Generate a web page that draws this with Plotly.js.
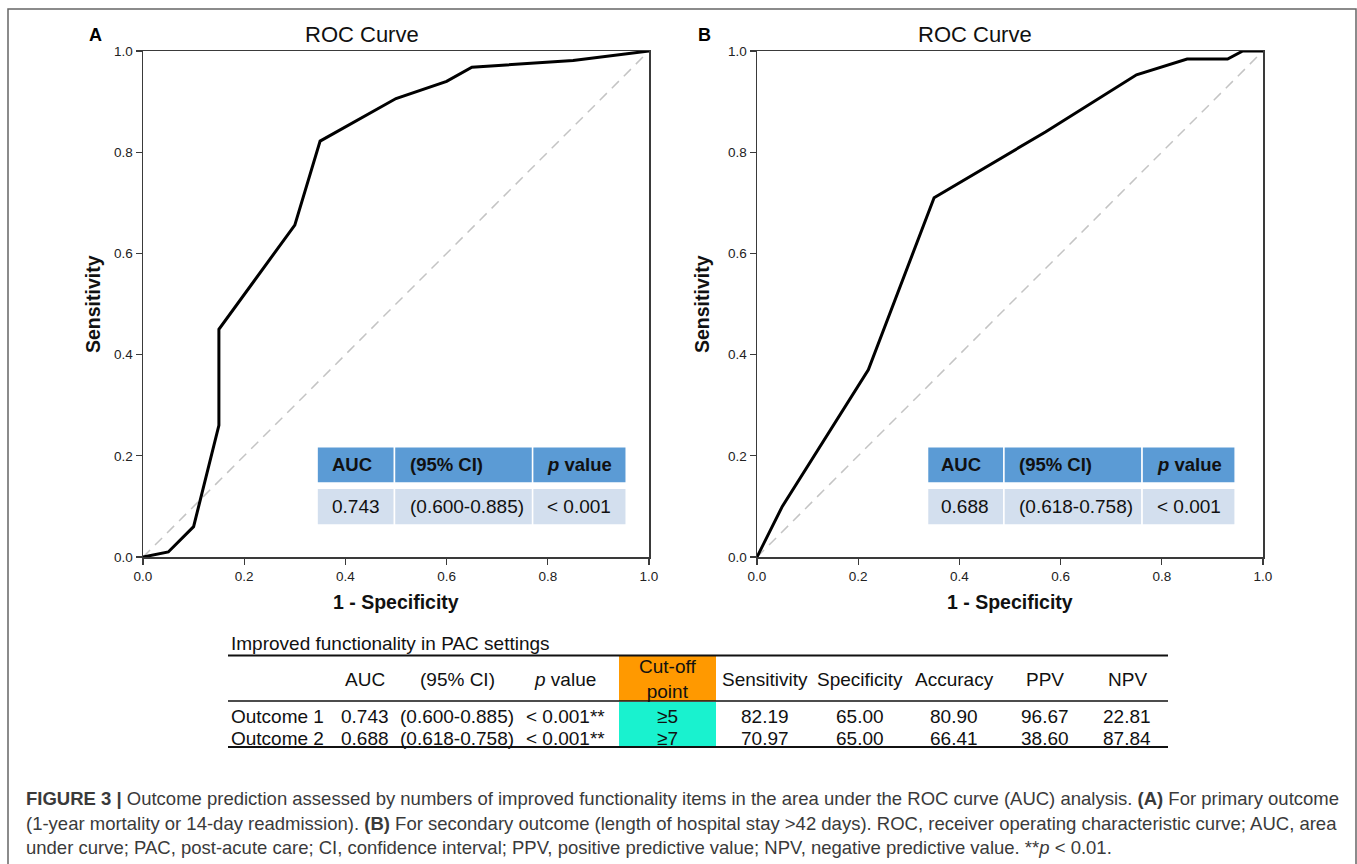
<!DOCTYPE html>
<html>
<head>
<meta charset="utf-8">
<script src="https://cdn.plot.ly/plotly-3.0.1.min.js"></script>
<style>html,body{margin:0;padding:0;background:#fff;}#chart{width:1357px;height:864px;}</style>
</head>
<body>
<div id="chart"></div>
<script>
// ---------- data ----------
const rocA_fpr = [0, 0.05, 0.10, 0.15, 0.15, 0.30, 0.35, 0.50, 0.60, 0.65, 0.85, 1.0];
const rocA_tpr = [0, 0.01, 0.06, 0.26, 0.45, 0.656, 0.822, 0.906, 0.94, 0.968, 0.981, 1.0];
const rocB_fpr = [0, 0.05, 0.22, 0.35, 0.57, 0.75, 0.85, 0.93, 0.96, 1.0];
const rocB_tpr = [0, 0.10, 0.37, 0.71, 0.84, 0.953, 0.984, 0.984, 1.0, 1.0];
const refX = [0, 1];
const refY = [0, 1];
const axisTicks = [0, 0.2, 0.4, 0.6, 0.8, 1.0];
const axisTickText = ["0.0", "0.2", "0.4", "0.6", "0.8", "1.0"];

const insetHeaders = ["AUC", "(95% CI)", "<i>p</i> value"];
const insetA = ["0.743", "(0.600-0.885)", "< 0.001"];
const insetB = ["0.688", "(0.618-0.758)", "< 0.001"];

const tableTitle = "Improved functionality in PAC settings";
const tableCols = ["AUC", "(95% CI)", "<i>p</i> value", "Cut-off<br>point", "Sensitivity", "Specificity", "Accuracy", "PPV", "NPV"];
const outcomeLabels = ["Outcome 1", "Outcome 2"];
const aucVals = ["0.743", "0.688"];
const ciVals = ["(0.600-0.885)", "(0.618-0.758)"];
const pVals = ["< 0.001**", "< 0.001**"];
const cutoffVals = ["≥5", "≥7"];
const sensVals = ["82.19", "70.97"];
const specVals = ["65.00", "65.00"];
const accVals = ["80.90", "66.41"];
const ppvVals = ["96.67", "38.60"];
const npvVals = ["22.81", "87.84"];

const captionLines = [
  "<b>FIGURE 3 |</b> Outcome prediction assessed by numbers of improved functionality items in the area under the ROC curve (AUC) analysis. <b>(A)</b> For primary outcome",
  "(1-year mortality or 14-day readmission). <b>(B)</b> For secondary outcome (length of hospital stay >42 days). ROC, receiver operating characteristic curve; AUC, area",
  "under curve; PAC, post-acute care; CI, confidence interval; PPV, positive predictive value; NPV, negative predictive value. **<i>p</i> < 0.01."
];

// ---------- layout helpers ----------
const W = 1357, H = 864;
const px = v => v / W;
const py = v => 1 - v / H;
const FONT = "Liberation Sans, Arial, Helvetica, sans-serif";

const traces = [
  {x: refX, y: refY, xaxis: 'x', yaxis: 'y', mode: 'lines', line: {color: '#c4c4c4', width: 1.5, dash: '10px,7px'}, hoverinfo: 'skip'},
  {x: rocA_fpr, y: rocA_tpr, xaxis: 'x', yaxis: 'y', mode: 'lines', line: {color: '#000', width: 3}},
  {x: refX, y: refY, xaxis: 'x2', yaxis: 'y2', mode: 'lines', line: {color: '#c4c4c4', width: 1.5, dash: '10px,7px'}, hoverinfo: 'skip'},
  {x: rocB_fpr, y: rocB_tpr, xaxis: 'x2', yaxis: 'y2', mode: 'lines', line: {color: '#000', width: 3}}
];

function axisDef(domain, anchor) {
  return {
    domain: domain, anchor: anchor, range: [0, 1], fixedrange: true,
    showgrid: false, zeroline: false, showline: true, mirror: true,
    linecolor: '#3a3a3a', linewidth: 1.5,
    ticks: 'outside', ticklen: 6, tickwidth: 1.3, tickcolor: '#3a3a3a',
    tickvals: axisTicks, ticktext: axisTickText,
    tickfont: {family: FONT, size: 13.5, color: '#222'}
  };
}

const yDom = [py(557), py(51)];
const layout = {
  width: W, height: H,
  margin: {l: 0, r: 0, t: 0, b: 0},
  paper_bgcolor: '#fff', plot_bgcolor: '#fff',
  showlegend: false,
  xaxis: axisDef([px(143), px(649)], 'y'),
  yaxis: axisDef(yDom, 'x'),
  xaxis2: axisDef([px(757), px(1263)], 'y2'),
  yaxis2: axisDef(yDom, 'x2'),
  shapes: [],
  annotations: []
};

// figure border (bottom edge outside the page)
layout.shapes.push({type: 'rect', xref: 'paper', yref: 'paper', x0: px(8), x1: px(1356), y0: -0.05, y1: py(9),
  line: {color: '#666', width: 1.5}, fillcolor: 'rgba(0,0,0,0)', layer: 'below'});

// panel labels, titles, axis titles
function panelText(letter, letterX, titleX, midX) {
  layout.annotations.push({xref: 'paper', yref: 'paper', x: px(letterX), y: py(35), text: '<b>' + letter + '</b>', showarrow: false,
    font: {family: FONT, size: 18, color: '#000'}, xanchor: 'center', yanchor: 'middle'});
  layout.annotations.push({xref: 'paper', yref: 'paper', x: px(titleX), y: py(34), text: 'ROC Curve', showarrow: false,
    font: {family: FONT, size: 22, color: '#111'}, xanchor: 'center', yanchor: 'middle'});
  layout.annotations.push({xref: 'paper', yref: 'paper', x: px(midX), y: py(602), text: '<b>1 - Specificity</b>', showarrow: false,
    font: {family: FONT, size: 19.5, color: '#111'}, xanchor: 'center', yanchor: 'middle'});
  layout.annotations.push({xref: 'paper', yref: 'paper', x: px(letterX - 2), y: py(304), text: '<b>Sensitivity</b>', showarrow: false,
    textangle: -90, font: {family: FONT, size: 19.5, color: '#111'}, xanchor: 'center', yanchor: 'middle'});
}
panelText('A', 95, 362, 396);
panelText('B', 704, 975, 1010);

// inset tables inside each ROC panel
function insetTable(xr, yr, edges, textX, values) {
  const hdr = [0.146, 0.218], body = [0.063, 0.136];
  for (let i = 0; i < 3; i++) {
    layout.shapes.push({type: 'rect', xref: xr, yref: yr, x0: edges[i], x1: edges[i + 1], y0: hdr[0], y1: hdr[1],
      fillcolor: '#5b9bd5', line: {color: '#fff', width: 1.5}, layer: 'above'});
    layout.shapes.push({type: 'rect', xref: xr, yref: yr, x0: edges[i], x1: edges[i + 1], y0: body[0], y1: body[1],
      fillcolor: '#d3dfee', line: {color: '#fff', width: 1.5}, layer: 'above'});
    layout.annotations.push({xref: xr, yref: yr, x: textX[i], y: (hdr[0] + hdr[1]) / 2, text: '<b>' + insetHeaders[i] + '</b>',
      showarrow: false, xanchor: 'left', yanchor: 'middle', font: {family: FONT, size: 18.5, color: '#111'}});
    layout.annotations.push({xref: xr, yref: yr, x: textX[i], y: (body[0] + body[1]) / 2, text: values[i],
      showarrow: false, xanchor: 'left', yanchor: 'middle', font: {family: FONT, size: 19, color: '#111'}});
  }
}
insetTable('x', 'y', [0.344, 0.497, 0.770, 0.955], [0.369, 0.523, 0.795], insetA);
insetTable('x2', 'y2', [0.337, 0.488, 0.761, 0.945], [0.359, 0.514, 0.786], insetB);

// bottom summary table
const colX = [365, 457, 565, 667, 765, 860, 954, 1045, 1127];
const rowY = [716, 738];
const tFont = {family: FONT, size: 19, color: '#111'};
layout.annotations.push({xref: 'paper', yref: 'paper', x: px(229), y: py(643), text: tableTitle, showarrow: false,
  xanchor: 'left', yanchor: 'middle', font: tFont});
layout.shapes.push({type: 'rect', xref: 'paper', yref: 'paper', x0: px(619), x1: px(716), y0: py(701), y1: py(656),
  fillcolor: '#ff9900', line: {width: 0}, layer: 'below'});
layout.shapes.push({type: 'rect', xref: 'paper', yref: 'paper', x0: px(619), x1: px(716), y0: py(747), y1: py(702),
  fillcolor: '#19f2cf', line: {width: 0}, layer: 'below'});
[[655.5, 2], [701, 1.3], [747, 2]].forEach(([yy, w]) => {
  layout.shapes.push({type: 'line', xref: 'paper', yref: 'paper', x0: px(228), x1: px(1168), y0: py(yy), y1: py(yy),
    line: {color: '#111', width: w}});
});
tableCols.forEach((c, i) => {
  layout.annotations.push({xref: 'paper', yref: 'paper', x: px(colX[i]), y: py(679), text: c, showarrow: false,
    xanchor: 'center', yanchor: 'middle', align: 'center', font: {family: FONT, size: 19, color: '#111'}});
});
const rowCols = [aucVals, ciVals, pVals, cutoffVals, sensVals, specVals, accVals, ppvVals, npvVals];
outcomeLabels.forEach((lab, r) => {
  layout.annotations.push({xref: 'paper', yref: 'paper', x: px(229), y: py(rowY[r]), text: lab, showarrow: false,
    xanchor: 'left', yanchor: 'middle', font: tFont});
  rowCols.forEach((col, i) => {
    layout.annotations.push({xref: 'paper', yref: 'paper', x: px(colX[i]), y: py(rowY[r]), text: col[r], showarrow: false,
      xanchor: 'center', yanchor: 'middle', font: tFont});
  });
});

// caption
const capY = [798, 823, 847];
captionLines.forEach((t, i) => {
  layout.annotations.push({xref: 'paper', yref: 'paper', x: px(24), y: py(capY[i]), text: t, showarrow: false,
    xanchor: 'left', yanchor: 'middle', font: {family: FONT, size: 18.5, color: '#3a3a3a'}});
});

Plotly.newPlot('chart', traces, layout, {displayModeBar: false, staticPlot: true});
</script>
</body>
</html>
